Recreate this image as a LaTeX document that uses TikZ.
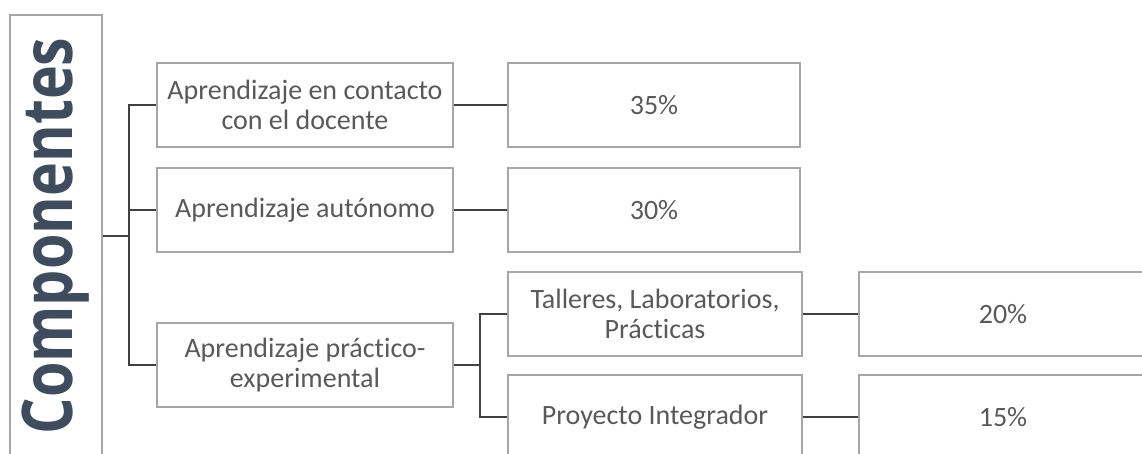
\documentclass[tikz,border=0pt]{standalone}
\usepackage{fontspec}
\setmainfont{Carlito}[Ligatures=NoCommon]
\newfontfamily\headfont{Open Sans}
\usetikzlibrary{positioning}
\definecolor{boxline}{HTML}{A6A6A6}
\definecolor{txtgray}{HTML}{595959}
\definecolor{linkline}{HTML}{404040}
\definecolor{headblue}{HTML}{3F4C5E}

\begin{document}
\begin{tikzpicture}[x=1pt,y=-1pt,
    box/.style={draw=boxline, line width=1.3pt, text=txtgray, align=center,
      font=\fontsize{28}{30}\selectfont, inner sep=0pt,
      minimum width=296pt, minimum height=84pt},
    link/.style={draw=linkline, line width=1.6pt}]
  \useasboundingbox (0,0) rectangle (1142,453);
  \clip (0,0) rectangle (1142,453);

  \node[box, minimum width=92pt, minimum height=442pt] (comp) at (56,236)
    {\rotatebox{90}{\scalebox{0.82}[1]{\color{headblue}\headfont\bfseries\fontsize{70}{70}\selectfont Componentes}}};

  \node[box] (contacto) at (305,105) {Aprendizaje en contacto\\con el docente};
  \node[box] (autonomo) at (305,210) {Aprendizaje autónomo};
  \node[box] (practico) at (305,365) {Aprendizaje práctico-\\experimental};

  \node[box, minimum width=292pt] (pc35) at (654,105) {35\%};
  \node[box, minimum width=292pt] (pc30) at (654,210) {30\%};
  \node[box, minimum width=294pt] (talleres) at (655,314) {Talleres, Laboratorios,\\Prácticas};
  \node[box, minimum width=294pt] (proyecto) at (655,417) {Proyecto Integrador};
  \node[box, minimum width=288pt] (pc20) at (1003,314) {20\%};
  \node[box, minimum width=288pt] (pc15) at (1003,417) {15\%};

  \coordinate (hub) at (129,236);
  \coordinate (subhub) at (480,365);

  \draw[link] (comp.east) -- (hub);
  \foreach \n in {contacto,autonomo,practico}
    \draw[link] (hub) |- (\n.west);
  \draw[link] (practico.east) -- (subhub);
  \foreach \n in {talleres,proyecto}
    \draw[link] (subhub) |- (\n.west);

  \draw[link] (contacto) -- (pc35);
  \draw[link] (autonomo) -- (pc30);
  \draw[link] (talleres) -- (pc20);
  \draw[link] (proyecto) -- (pc15);
\end{tikzpicture}
\end{document}
